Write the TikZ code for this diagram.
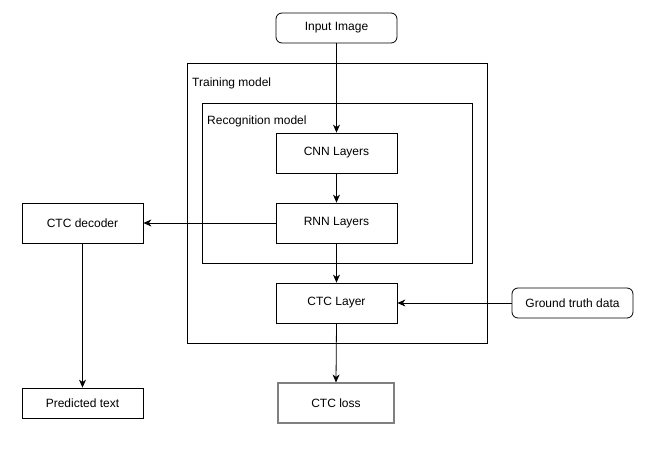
\documentclass[tikz,border=0pt]{standalone}
\usepackage{fontspec}
\setmainfont{Liberation Sans}
\usetikzlibrary{arrows.meta}
\tikzstyle{block}=[draw,rectangle,minimum width=121pt,minimum height=40pt,inner sep=0pt,line width=0.8pt,font=\fontsize{12}{14}\selectfont]
\tikzstyle{term}=[block,rounded corners=6pt,minimum height=30pt]
\tikzstyle{group}=[draw,rectangle,inner sep=0pt,line width=0.8pt]
\tikzstyle{grouplbl}=[anchor=north west,inner sep=0pt,font=\fontsize{12}{14}\selectfont]
\tikzstyle{flow}=[line width=0.8pt,-{Stealth[length=8pt,width=7pt,inset=2.5pt]}]

\begin{document}
\begin{tikzpicture}[x=1pt,y=-1pt]
    \useasboundingbox (0,0) rectangle (654,455);
    \node[group,minimum width=300pt,minimum height=280pt] (train) at (337,203) {};
    \node[grouplbl] (trainlbl) at (192,78) {Training model};
    \node[group,minimum width=270pt,minimum height=160pt] (recog) at (337,183) {};
    \node[grouplbl] (recoglbl) at (207,116) {Recognition model};

    \node[term] (img) at (336.5,28) {Input Image};
    \node[block] (cnn) at (336.5,153) {CNN Layers};
    \node[block] (rnn) at (336.5,223) {RNN Layers};
    \node[block] (ctc) at (336.5,303) {CTC Layer};
    \node[block] (dec) at (82.5,223) {CTC decoder};
    \node[block,minimum height=30pt] (pred) at (82.5,403) {Predicted text};
    \node[block,draw=gray,line width=1.1pt,minimum width=116pt] (loss) at (336,403) {CTC loss};
    \node[term] (gt) at (572.5,303) {Ground truth data};

    \foreach \from/\to in {img/cnn,cnn/rnn,rnn/ctc,ctc/loss,dec/pred}
    \draw[flow] (\from.south) -- (\to.north);
    \draw[flow] (rnn.west) -- (dec.east);
    \draw[flow] (gt.west) -- (ctc.east);
\end{tikzpicture}
\end{document}
